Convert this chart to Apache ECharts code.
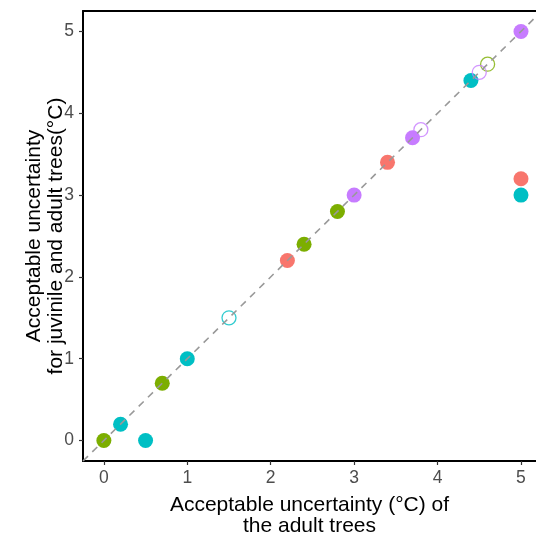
<!DOCTYPE html>
<html>
<head>
<meta charset="utf-8">
<script src="https://cdn.jsdelivr.net/npm/echarts@6/dist/echarts.min.js"></script>
<style>
  html, body { margin: 0; padding: 0; background: #fff; }
  #chart { width: 536px; height: 534px; }
</style>
</head>
<body>
<div id="chart"></div>
<script>
// Axis extents (padded like ggplot; x is cut at the right edge of the panel)
const xMin = -0.25;
const xMax = 5.18;
const yMin = -0.25;
const yMax = 5.25;
const tickValues = [0, 1, 2, 3, 4, 5];

// Points per group: [adult, juvenile+adult]
const redFilled    = [[2.2, 2.2], [3.4, 3.4], [5, 3.2]];
const greenFilled  = [[0, 0], [0.7, 0.7], [2.4, 2.4], [2.8, 2.8]];
const greenOpen    = [[4.6, 4.6]];
const cyanFilled   = [[0.2, 0.2], [0.5, 0], [1, 1], [4.4, 4.4], [5, 3]];
const cyanOpen     = [[1.5, 1.5]];
const purpleFilled = [[3, 3], [3.7, 3.7], [5, 5]];
const purpleOpen   = [[3.8, 3.8], [4.5, 4.5]];

const RED = '#F8766D', GREEN = '#7CAE00', CYAN = '#00BFC4', PURPLE = '#C77CFF';

function filled(data, color) {
  return {
    type: 'scatter', data, symbol: 'circle', symbolSize: 15,
    itemStyle: { color, opacity: 1 }, z: 2, silent: true
  };
}
function open(data, color) {
  return {
    type: 'scatter', data, symbol: 'circle', symbolSize: 14,
    itemStyle: { color: 'rgba(0,0,0,0)', borderColor: color, borderWidth: 1.3 }, z: 2, silent: true
  };
}

const chart = echarts.init(document.getElementById('chart'), null, { renderer: 'canvas' });
const axisLabelStyle = { color: '#4D4D4D', fontSize: 17.5, fontFamily: 'Liberation Sans' };
const axisNameStyle = { color: '#000', fontSize: 21, fontFamily: 'Liberation Sans', lineHeight: 21.5 };

chart.setOption({
  animation: false,
  backgroundColor: '#fff',
  grid: { left: 83, top: 11, right: 0, bottom: 73, outerBoundsMode: 'none', containLabel: false },
  xAxis: [{
    type: 'value', min: xMin, max: xMax,
    axisLine: { show: true, onZero: false, lineStyle: { color: '#000', width: 2 } },
    axisTick: { show: true, length: 4, lineStyle: { color: '#333', width: 1.2 },
      customValues: tickValues },
    axisLabel: { ...axisLabelStyle, margin: 8, customValues: tickValues },
    splitLine: { show: false },
    name: 'Acceptable uncertainty (°C) of\nthe adult trees',
    nameLocation: 'middle', nameGap: 33, nameMoveOverlap: false,
    nameTextStyle: axisNameStyle
  }, {
    // top frame line of the panel
    type: 'value', position: 'top', min: xMin, max: xMax,
    axisLine: { show: true, onZero: false, lineStyle: { color: '#000', width: 2 } },
    axisTick: { show: false }, axisLabel: { show: false }, splitLine: { show: false }
  }],
  yAxis: {
    type: 'value', min: yMin, max: yMax,
    axisLine: { show: true, onZero: false, lineStyle: { color: '#000', width: 2 } },
    axisTick: { show: true, length: 4, lineStyle: { color: '#333', width: 1.2 },
      customValues: tickValues },
    axisLabel: { ...axisLabelStyle, margin: 9, customValues: tickValues },
    splitLine: { show: false },
    name: 'Acceptable uncertainty\nfor juvinile and adult trees(°C)',
    nameLocation: 'middle', nameGap: 16.5, nameRotate: 90, nameMoveOverlap: false,
    nameTextStyle: axisNameStyle
  },
  series: [
    filled(redFilled, RED),
    filled(greenFilled, GREEN),
    open(greenOpen, GREEN),
    filled(cyanFilled, CYAN),
    open(cyanOpen, CYAN),
    filled(purpleFilled, PURPLE),
    open(purpleOpen, PURPLE),
    {
      // 1:1 reference line across the plotted range
      type: 'line',
      data: [[yMin, yMin], [yMax, yMax]],
      symbol: 'none', silent: true, z: 5, clip: true,
      lineStyle: { color: '#999999', width: 1.6, type: [7, 6] }
    }
  ]
});
</script>
</body>
</html>
